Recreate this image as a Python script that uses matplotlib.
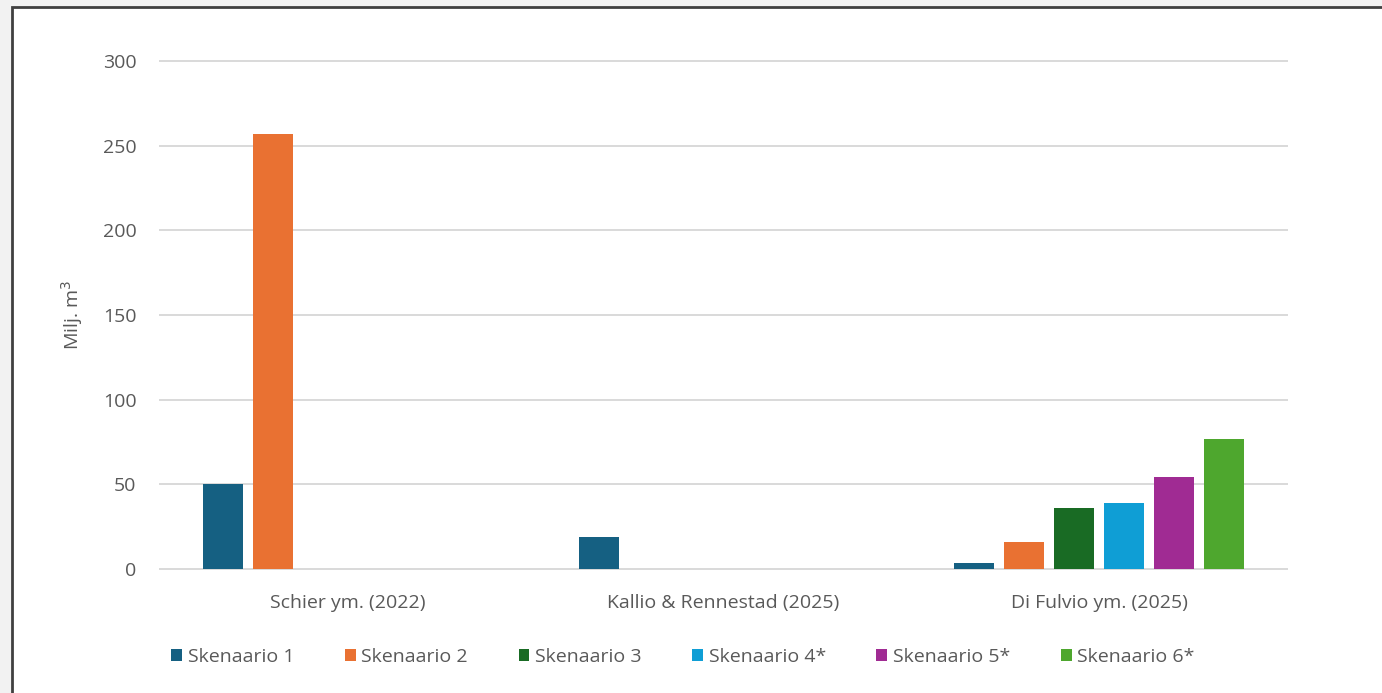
from matplotlib import pyplot as plt
from matplotlib.patches import Rectangle
import numpy as np

# Tutkimukset ja skenaariot
tutkimukset = ["Schier ym. (2022)", "Kallio & Rennestad (2025)", "Di Fulvio ym. (2025)"]
skenaariot = ["Skenaario 1", "Skenaario 2", "Skenaario 3", "Skenaario 4*", "Skenaario 5*", "Skenaario 6*"]
varit = ["#156082", "#e97132", "#196b24", "#0f9ed5", "#a02b93", "#4ea72e"]

# Arvot (milj. m3), None = ei arvoa
skenaario_1 = [50, 19, 3.7]
skenaario_2 = [257, None, 16]
skenaario_3 = [None, None, 35.8]
skenaario_4 = [None, None, 39.2]
skenaario_5 = [None, None, 54.5]
skenaario_6 = [None, None, 76.8]
arvot = [skenaario_1, skenaario_2, skenaario_3, skenaario_4, skenaario_5, skenaario_6]

plt.rcParams['font.family'] = ['Open Sans', 'DejaVu Sans']
teksti = '#595959'
koko = 14

fig = plt.figure(figsize=(13.82, 6.93), dpi=100)
fig.patch.set_facecolor('#f2f2f2')
# valkoinen paneeli reunaviivalla
fig.patches.append(Rectangle((12 / 1382, -0.05), 1.1, 1 - 7 / 693 + 0.05,
                             transform=fig.transFigure, facecolor='white',
                             edgecolor='#404040', linewidth=2, zorder=-5))

ax = fig.add_axes([160 / 1382, 1 - 569 / 693, 1127 / 1382, 508 / 693])
ax.set_facecolor('white')

x = np.arange(len(tutkimukset))
step = 0.133
width = 0.106
for idx, (nimi, sarja) in enumerate(zip(skenaariot, arvot)):
    pos = x + (idx - 2.5) * step
    vals = [np.nan if v is None else v for v in sarja]
    ax.bar(pos, vals, width=width, color=varit[idx], label=nimi, zorder=3)

ax.set_xlim(-0.5, 2.5)
ax.set_ylim(0, 300)
ax.set_yticks(np.arange(0, 301, 50))
ax.set_xticks(x)
ax.set_xticklabels(tutkimukset)
ax.grid(axis='y', color='#d9d9d9', linewidth=1.4, zorder=0)
for line in ax.get_ygridlines():
    line.set_clip_on(False)
for s in ax.spines.values():
    s.set_visible(False)
ax.tick_params(axis='both', length=0, colors=teksti, labelsize=koko)
ax.tick_params(axis='y', pad=17)
ax.tick_params(axis='x', pad=18)
ax.set_ylabel('Milj. m$^3$', color=teksti, fontsize=koko, labelpad=13)

handles, labels = ax.get_legend_handles_labels()
fig.legend(handles, labels, loc='center', bbox_to_anchor=(683 / 1382, 1 - 657 / 693),
           ncol=6, frameon=False, fontsize=koko, labelcolor=teksti,
           handlelength=0.55, handleheight=0.55, handletextpad=0.3, columnspacing=2.6)

fig.savefig('out.png', dpi=100, facecolor=fig.get_facecolor())
